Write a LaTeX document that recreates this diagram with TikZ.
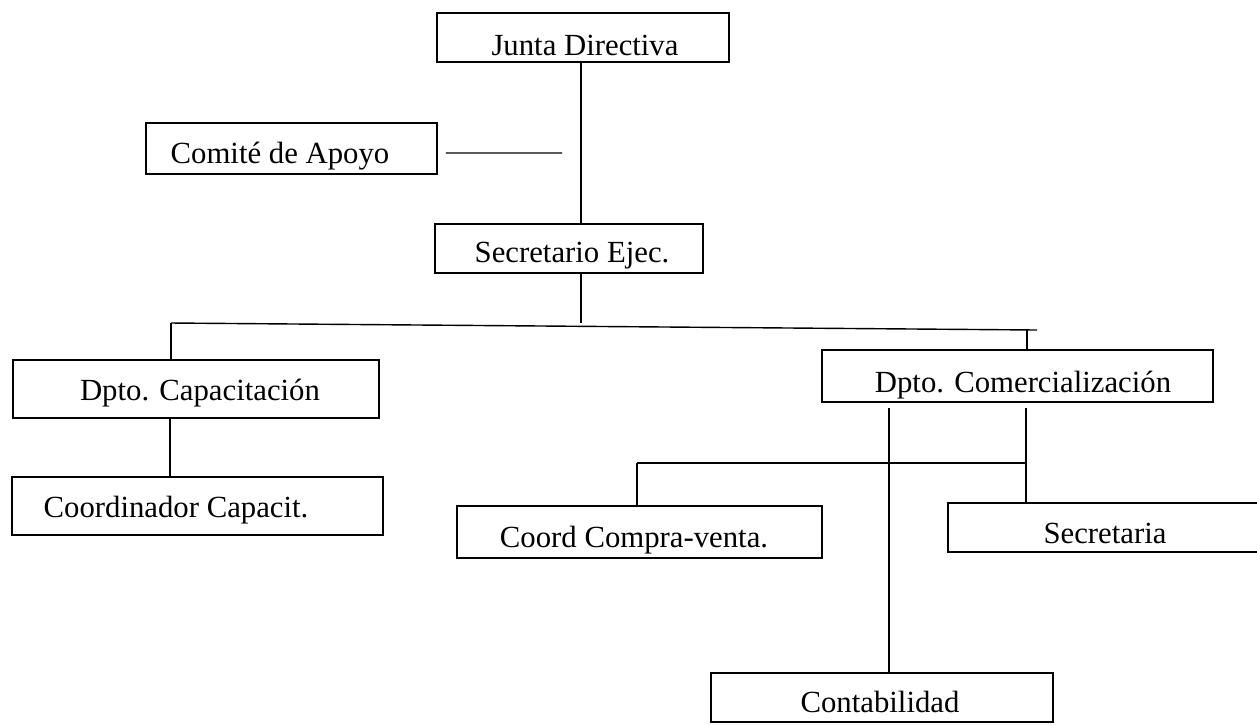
\documentclass[tikz,border=0pt]{standalone}
\usepackage{fontspec}
\setmainfont{Liberation Serif}
\usetikzlibrary{calc}

\begin{document}
\begin{tikzpicture}[x = 0.02cm, y = -0.02cm, line width = 0.8pt,
  box/.style 2 args = {draw, rectangle, line width = 1pt, inner sep = 0,
    minimum width = #1*0.02cm, minimum height = #2*0.02cm},
  lbl/.style = {anchor = base, inner sep = 0, font = \fontsize{17.5}{21}\selectfont}]
\useasboundingbox (0, 0) rectangle (1257, 725);
% boxes
\node[box = {292}{49}] (junta) at (583, 37.5) {};
\node[box = {291}{51}] (comite) at (291.5, 148.5) {};
\node[box = {268}{49}] (sec) at (569, 248.5) {};
\node[box = {366}{58}] (cap) at (196, 389) {};
\node[box = {371}{58}] (coord) at (197.5, 506) {};
\node[box = {391}{52}] (comerc) at (1017.5, 376) {};
\node[box = {365}{52}] (compra) at (639.5, 532) {};
\node[box = {314}{49}] (secr) at (1105, 527.5) {};
\node[box = {342}{49}] (conta) at (882, 697.5) {};
% texts
\node[lbl] (tjunta) at (585, 55) {Junta Directiva};
\node[lbl] (tcomite) at (280, 163) {Comité de Apoyo};
\node[lbl] (tsec) at (572, 262) {Secretario Ejec.};
\node[lbl] (tcap) at (200, 400) {Dpto. Capacitación};
\node[lbl] (tcoord) at (176, 517) {Coordinador Capacit.};
\node[lbl] (tcomerc) at (1023, 392) {Dpto. Comercialización};
\node[lbl] (tcompra) at (634, 547) {Coord Compra-venta.};
\node[lbl] (tsecr) at (1105, 543) {Secretaria};
\node[lbl] (tconta) at (880, 712) {Contabilidad};
% lines
\coordinate (xj) at (581, 0);
\coordinate (cend) at (562, 153);
\coordinate (barL) at (171, 323);
\coordinate (barR) at (1037, 330);
\coordinate (xc) at (1027, 330);
\coordinate (xk) at (170, 0);
\coordinate (xa) at (889, 408);
\coordinate (xs) at (1026, 408);
\coordinate (xb) at (637, 463);
\draw (xj |- junta.south) -- (xj |- sec.north);
\draw ($(comite.east) + (8, 4.5)$) -- (cend);
\draw (xj |- sec.south) -- (xj |- barL);
\draw (barL) -- (barR);
\draw (barL) -- (barL |- cap.north);
\draw (xc) -- (xc |- comerc.north);
\draw (xk |- cap.south) -- (xk |- coord.north);
\draw (xa) -- (xa |- conta.north);
\draw (xs) -- (xs |- secr.north);
\draw (xb) -- (xs |- xb);
\draw (xb) -- (xb |- compra.north);
\end{tikzpicture}
\end{document}
